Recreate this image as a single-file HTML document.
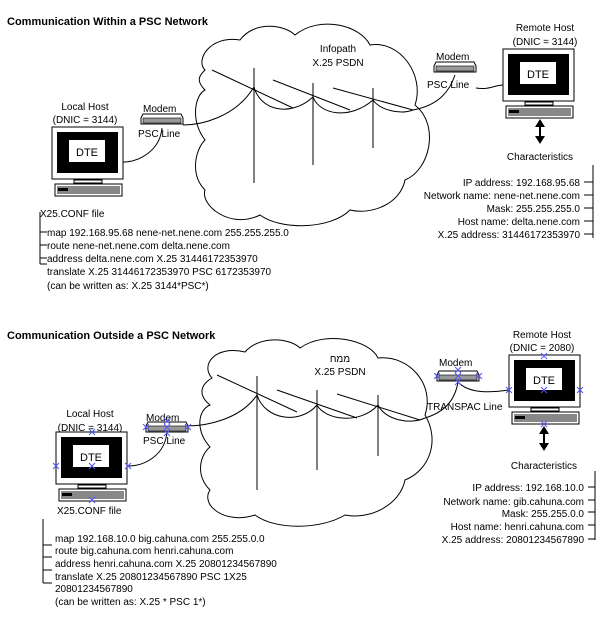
<!DOCTYPE html>
<html><head><style>
html,body{margin:0;padding:0;background:#fff;}
svg{display:block;font-family:"Liberation Sans",Arial,sans-serif;}
text{font-size:10px;fill:#000;}
.b{font-weight:bold;font-size:11px;}
.l{fill:none;stroke:#000;stroke-width:1;}
.x{stroke:#55f;stroke-width:1;fill:none;}
</style></head><body>
<svg width="614" height="631" viewBox="0 0 614 631" xmlns="http://www.w3.org/2000/svg">
<defs>
<g id="mon">
 <rect x="0" y="0" width="71" height="52" fill="#fff" stroke="#000"/>
 <rect x="5" y="5" width="61" height="41" fill="#000"/>
 <rect x="17" y="13" width="36" height="22" fill="#fff"/>
 <text x="35" y="29" text-anchor="middle" style="font-size:11px">DTE</text>
 <rect x="60" y="47" width="4" height="2" fill="#fff"/>
 <rect x="22" y="53" width="28" height="3" fill="#fff" stroke="#000"/>
 <rect x="3" y="57" width="67" height="12" fill="#fff" stroke="#000"/>
 <rect x="5" y="59" width="63" height="8" fill="#888"/>
 <rect x="6" y="61" width="10" height="3" fill="#000"/>
</g>
<g id="mod">
 <path d="M2 0 H40 L42 4 V10 H0 V4 Z" fill="#fff" stroke="#000"/>
 <rect x="2" y="4" width="38" height="5" fill="#999" stroke="#000" stroke-width="0.6"/>
</g>
<path id="xm" d="M-3 -3 L3 3 M-3 3 L3 -3"/>
</defs>

<!-- ===== TOP ===== -->
<text x="7" y="25" class="b">Communication Within a PSC Network</text>
<path class="l" d="M205 70 C195 60 210 35 240 40 C255 20 285 25 295 35 C320 15 360 25 370 45 C400 40 425 75 415 105 C440 125 430 170 405 180 C400 205 370 215 350 210 C330 230 280 230 260 215 C230 230 200 205 205 190 C190 175 195 150 205 140 C190 120 195 95 205 90 C195 80 200 75 205 70 Z"/>
<text x="338" y="52" text-anchor="middle">Infopath</text>
<text x="338" y="66" text-anchor="middle">X.25 PSDN</text>
<path class="l" d="M212 70 L293 108 M254 68 V183 M273 80 L350 110 M313 83 V165 M333 88 L413 110 M373 88 V148"/>
<path class="l" d="M254 87 C260 110 290 118 313 97 C320 115 350 120 373 100 C380 110 400 115 413 110"/>
<path class="l" d="M183 125 C200 125 235 118 254 87"/>
<path class="l" d="M123 162 C140 162 160 150 162 128"/>
<path class="l" d="M413 110 C440 105 450 90 455 75 M476 88 C490 90 495 85 503 85"/>

<text x="85" y="110" text-anchor="middle">Local Host</text>
<text x="85" y="123" text-anchor="middle">(DNIC = 3144)</text>
<use href="#mon" x="52" y="127"/>
<text x="143" y="112">Modem</text>
<use href="#mod" x="141" y="114"/>
<text x="138" y="137">PSC Line</text>
<text x="40" y="217">X25.CONF file</text>
<path class="l" d="M40 212 V264 M40 232 H47 M40 245 H47 M40 258 H47 M40 264 H47"/>
<text x="47" y="236">map 192.168.95.68 nene-net.nene.com 255.255.255.0</text>
<text x="47" y="249">route nene-net.nene.com delta.nene.com</text>
<text x="47" y="262">address delta.nene.com X.25 31446172353970</text>
<text x="47" y="275">translate X.25 31446172353970 PSC 6172353970</text>
<text x="47" y="289">(can be written as: X.25 3144*PSC*)</text>

<text x="545" y="31" text-anchor="middle">Remote Host</text>
<text x="545" y="45" text-anchor="middle">(DNIC = 3144)</text>
<use href="#mon" x="503" y="49"/>
<text x="436" y="60">Modem</text>
<use href="#mod" x="434" y="62"/>
<text x="427" y="88">PSC Line</text>
<path d="M540 121 V142" stroke="#000" stroke-width="2"/>
<path d="M535 127 L540 119 L545 127 Z M535 136 L540 144 L545 136 Z"/>
<text x="540" y="160" text-anchor="middle">Characteristics</text>
<path class="l" d="M593 165 V238 M584 182 H593 M584 195 H593 M584 208 H593 M584 221 H593 M584 234 H593"/>
<g text-anchor="end">
<text x="580" y="186">IP address: 192.168.95.68</text>
<text x="580" y="199">Network name: nene-net.nene.com</text>
<text x="580" y="212">Mask: 255.255.255.0</text>
<text x="580" y="225">Host name: delta.nene.com</text>
<text x="580" y="238">X.25 address: 31446172353970</text>
</g>

<!-- ===== BOTTOM ===== -->
<text x="7" y="339" class="b">Communication Outside a PSC Network</text>
<path class="l" d="M212 378 C200 365 215 345 245 352 C260 335 290 338 300 348 C325 330 370 340 378 358 C410 355 435 385 425 415 C440 440 430 470 405 480 C400 505 370 520 345 515 C320 530 275 530 255 515 C225 525 200 505 210 490 C195 475 200 455 210 447 C195 430 198 410 210 405 C198 395 200 385 212 378 Z"/>
<text x="340" y="362" text-anchor="middle">ממח</text>
<text x="340" y="375" text-anchor="middle">X.25 PSDN</text>
<path class="l" d="M217 375 L297 412 M257 376 V490 M277 390 L357 418 M317 390 V470 M337 394 L420 420 M378 395 V456"/>
<path class="l" d="M257 395 C265 420 300 425 317 405 C325 420 360 425 378 405 C385 420 410 425 425 418"/>
<path class="l" d="M187 426 C205 426 240 420 257 395"/>
<path class="l" d="M128 466 C145 466 165 455 167 432"/>
<path class="l" d="M425 418 C445 412 455 400 458 382 M458 382 C470 395 495 392 509 390"/>

<text x="90" y="417" text-anchor="middle">Local Host</text>
<text x="90" y="431" text-anchor="middle">(DNIC = 3144)</text>
<use href="#mon" x="56" y="432"/>
<text x="146" y="421">Modem</text>
<use href="#mod" x="146" y="422"/>
<text x="143" y="444">PSC Line</text>
<text x="57" y="514">X25.CONF file</text>
<path class="l" d="M43 519 V583 M43 545 H52 M43 557 H52 M43 570 H52 M43 583 H52"/>
<text x="55" y="542">map 192.168.10.0 big.cahuna.com 255.255.0.0</text>
<text x="55" y="554">route big.cahuna.com henri.cahuna.com</text>
<text x="55" y="567">address henri.cahuna.com X.25 20801234567890</text>
<text x="55" y="580">translate X.25 20801234567890 PSC 1X25</text>
<text x="55" y="592">20801234567890</text>
<text x="55" y="605">(can be written as: X.25 * PSC 1*)</text>

<text x="542" y="338" text-anchor="middle">Remote Host</text>
<text x="542" y="351" text-anchor="middle">(DNIC = 2080)</text>
<use href="#mon" x="509" y="355"/>
<text x="439" y="366">Modem</text>
<use href="#mod" x="437" y="371"/>
<text x="427" y="410">TRANSPAC Line</text>
<path d="M544 428 V448" stroke="#000" stroke-width="2"/>
<path d="M539 434 L544 426 L549 434 Z M539 443 L544 451 L549 443 Z"/>
<text x="544" y="469" text-anchor="middle">Characteristics</text>
<path class="l" d="M595 471 V540 M588 487 H595 M588 500 H595 M588 512 H595 M588 525 H595 M588 539 H595"/>
<g text-anchor="end">
<text x="584" y="491">IP address: 192.168.10.0</text>
<text x="584" y="505">Network name: gib.cahuna.com</text>
<text x="584" y="517">Mask: 255.255.0.0</text>
<text x="584" y="530">Host name: henri.cahuna.com</text>
<text x="584" y="543">X.25 address: 20801234567890</text>
</g>

<!-- blue x markers -->
<g class="x">
<use href="#xm" x="92" y="432"/><use href="#xm" x="56" y="466"/><use href="#xm" x="128" y="466"/><use href="#xm" x="92" y="466"/><use href="#xm" x="92" y="500"/>
<use href="#xm" x="146" y="427"/><use href="#xm" x="167" y="421"/><use href="#xm" x="167" y="427"/><use href="#xm" x="167" y="433"/><use href="#xm" x="188" y="427"/>
<use href="#xm" x="544" y="356"/><use href="#xm" x="509" y="390"/><use href="#xm" x="580" y="390"/><use href="#xm" x="544" y="390"/><use href="#xm" x="544" y="424"/>
<use href="#xm" x="437" y="376"/><use href="#xm" x="458" y="370"/><use href="#xm" x="458" y="376"/><use href="#xm" x="458" y="382"/><use href="#xm" x="479" y="376"/>
</g>
</svg>
</body></html>
